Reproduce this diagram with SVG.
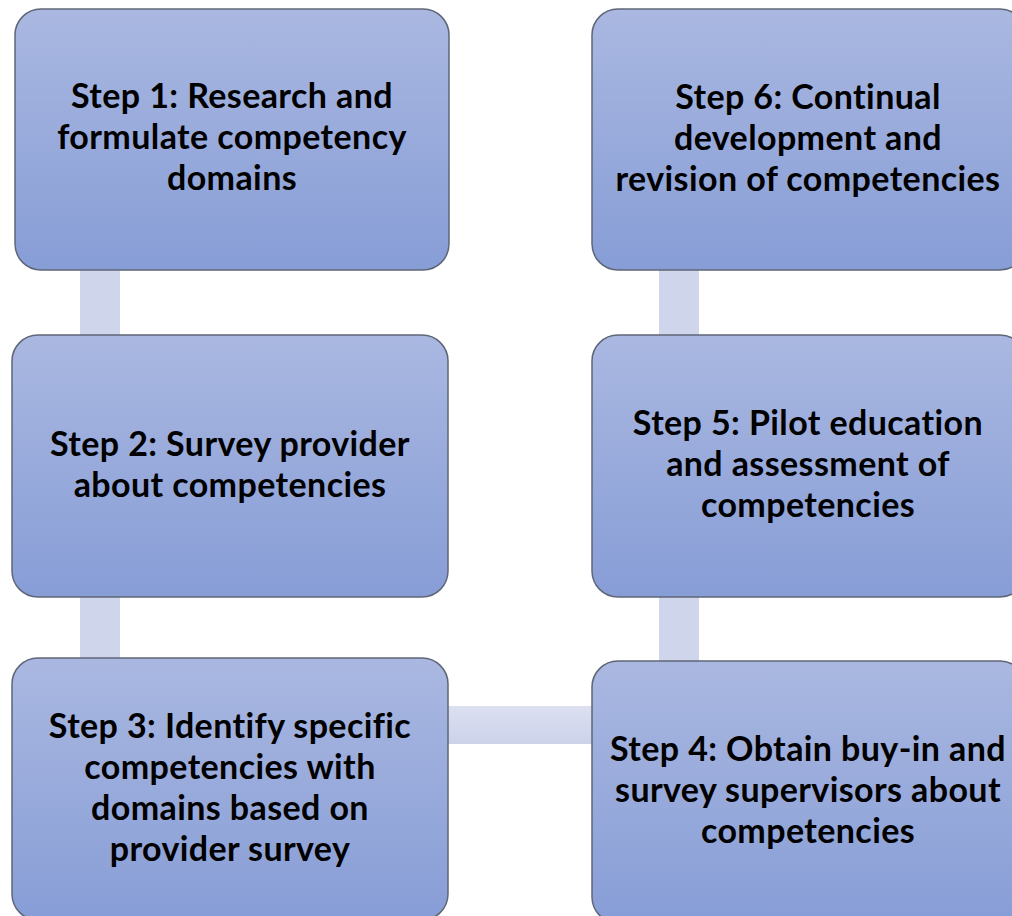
<svg xmlns="http://www.w3.org/2000/svg" width="1012" height="916" viewBox="0 0 1012 916">
<defs>
<linearGradient id="boxFill" x1="0" y1="0" x2="0" y2="1">
<stop offset="0" stop-color="#aab8e1"/>
<stop offset="1" stop-color="#879dd6"/>
</linearGradient>
<linearGradient id="hbar" x1="0" y1="0" x2="0" y2="1">
<stop offset="0" stop-color="#dce0f0"/>
<stop offset="1" stop-color="#ccd3ea"/>
</linearGradient>
<style>
.box{fill:url(#boxFill);stroke:#5f6677;stroke-width:1.5}
.bar{fill:#cfd5ea}
.lbl{font-family:Lato,"Liberation Sans",sans-serif;font-weight:bold;font-size:34px;letter-spacing:0.4px;font-variant-ligatures:none;fill:#000;text-anchor:middle}
</style>
</defs>
<rect width="1012" height="916" fill="#ffffff"/>
<g id="connectors">
<rect class="bar" x="80" y="268" width="40" height="69"/>
<rect class="bar" x="80" y="595" width="40" height="65"/>
<rect class="bar" x="659" y="268" width="40" height="69"/>
<rect class="bar" x="659" y="595" width="40" height="68"/>
<rect x="446" y="706" width="148" height="38" fill="url(#hbar)"/>
</g>
<g id="step1">
<rect class="box" x="15" y="9" width="434" height="261" rx="26"/>
<text class="lbl" x="232" y="108">Step 1: Research and</text>
<text class="lbl" x="232" y="149">formulate competency</text>
<text class="lbl" x="232" y="190">domains</text>
</g>
<g id="step2">
<rect class="box" x="12" y="335" width="436" height="262" rx="26"/>
<text class="lbl" x="230" y="456">Step 2: Survey provider</text>
<text class="lbl" x="230" y="497">about competencies</text>
</g>
<g id="step3">
<rect class="box" x="12" y="658" width="436" height="262" rx="26"/>
<text class="lbl" x="230" y="738">Step 3: Identify specific</text>
<text class="lbl" x="230" y="779">competencies with</text>
<text class="lbl" x="230" y="820">domains based on</text>
<text class="lbl" x="230" y="861">provider survey</text>
</g>
<g id="step4">
<rect class="box" x="592" y="661" width="434" height="262" rx="26"/>
<text class="lbl" x="808" y="761">Step 4: Obtain buy-in and</text>
<text class="lbl" x="808" y="802">survey supervisors about</text>
<text class="lbl" x="808" y="843">competencies</text>
</g>
<g id="step5">
<rect class="box" x="592" y="335" width="434" height="262" rx="26"/>
<text class="lbl" x="808" y="435">Step 5: Pilot education</text>
<text class="lbl" x="808" y="476">and assessment of</text>
<text class="lbl" x="808" y="517">competencies</text>
</g>
<g id="step6">
<rect class="box" x="592" y="9" width="434" height="261" rx="26"/>
<text class="lbl" x="808" y="109">Step 6: Continual</text>
<text class="lbl" x="808" y="150">development and</text>
<text class="lbl" x="808" y="191">revision of competencies</text>
</g>
</svg>
